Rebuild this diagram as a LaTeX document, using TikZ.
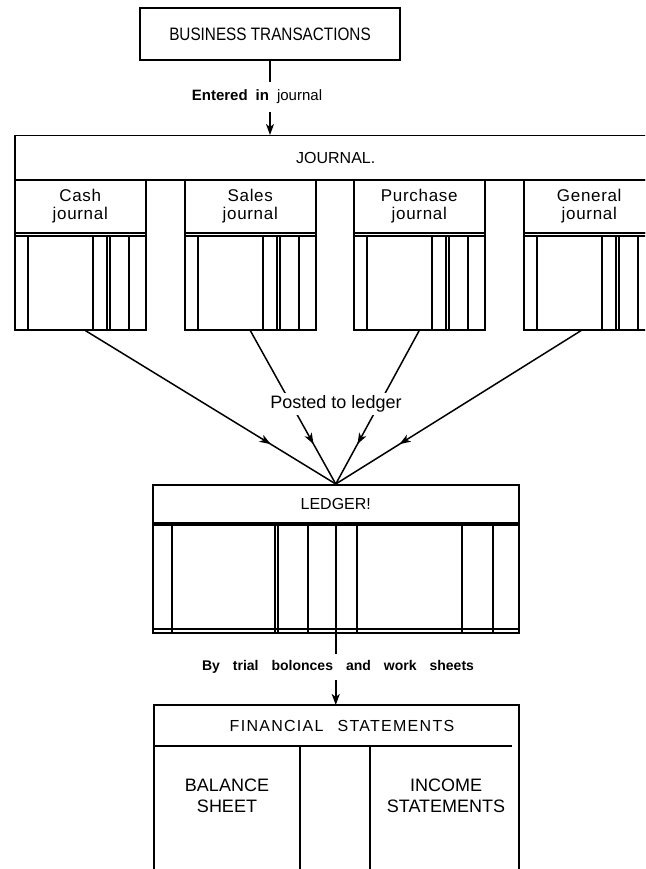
\documentclass[tikz,border=0pt]{standalone}
\usepackage{fontspec}
\setmainfont{Liberation Sans}
\newfontfamily\narrowsans[FakeStretch=0.85]{Liberation Sans}
\newfontfamily\spacedsans[LetterSpace=4]{Liberation Sans}
\newfontfamily\widesans[LetterSpace=8]{Liberation Sans}
\usetikzlibrary{arrows.meta,decorations.markings}

\newcommand{\wgap}{\hspace{13pt}}

\begin{document}
\begin{tikzpicture}[x=1pt, y=-1pt, line width=1.5pt,
  frame/.style={draw, inner sep=0pt, anchor=north west},
  colhead/.style={frame, minimum width=131pt, minimum height=53pt, align=center,
    font=\spacedsans\fontsize{17}{18}\selectfont},
  colbody/.style={frame, minimum width=131pt, minimum height=97pt},
  rule/.style={line width=1.2pt},
  lbl/.style={fill=white, inner sep=2pt},
  conn/.style={line width=1.5pt},
  tip/.style={-{Stealth[length=11pt,width=8pt,inset=3pt]}},
  midarrow/.style={decoration={markings,
      mark=at position 0.74 with {\arrow{Stealth[length=11pt,width=8pt,inset=3pt]}}},
    postaction={decorate}}]

\useasboundingbox (0,0) rectangle (645,869);
\clip (0,0) rectangle (645,869);

% source box
\node[draw, inner sep=0pt, minimum width=260pt, minimum height=52pt,
  font=\narrowsans\fontsize{18}{20}\selectfont] (bt) at (270,34) {BUSINESS TRANSACTIONS};

% journal header and its four books
\node[frame, minimum width=642pt, minimum height=44pt,
  font=\fontsize{16}{18}\selectfont] (jhead) at (14,135) {JOURNAL.};

\foreach \x/\nm/\t in {14/cash/Cash, 184/sales/Sales, 353/purch/Purchase, 523/gen/General} {
  \node[colhead] (\nm h) at (\x,179) {\t\\journal};
  \node[colbody] (\nm b) at (\x,232) {};
  \draw[rule] (\x,236) -- (\x+131,236);
  \foreach \d in {14,79,93,96,115}
    \draw[rule] (\x+\d,236) -- (\x+\d,329);
}

% ledger
\node[frame, minimum width=366pt, minimum height=38pt,
  font=\fontsize{16}{18}\selectfont] (ledh) at (152,484) {LEDGER!};
\node[frame, minimum width=366pt, minimum height=110pt] (ledb) at (152,522) {};
\draw[rule] (152,525) -- (518,525);
\draw[rule] (152,629) -- (518,629);
\foreach \v in {172,275,278,308,357,462,493}
  \draw[rule] (\v,525) -- (\v,634);

% financial statements
\coordinate (fstop) at (336,705);
\draw (154,869) -- (154,705) -- (519,705) -- (519,869);
\draw (154,746) -- (512,746);
\draw (300,746) -- (300,869);
\draw (370,746) -- (370,869);
\node[font=\widesans\fontsize{16}{18}\selectfont] (fsh) at (342,726)
  {FINANCIAL\hspace{14pt}STATEMENTS};
\node[align=center, font=\fontsize{18}{21}\selectfont] (bal) at (227,796)
  {BALANCE\\SHEET};
\node[align=center, font=\fontsize{18}{21}\selectfont] (inc) at (446,796)
  {INCOME\\STATEMENTS};

% transactions to journal
\draw[conn, tip] (bt.south) -- (bt.south |- jhead.north);
\node[lbl, minimum height=30pt, font=\fontsize{15}{17}\selectfont] (ent) at (257,97)
  {\bfseries Entered\hspace{8pt}in\hspace{8pt}\mdseries journal};

% postings to ledger
\draw[conn, midarrow] ([xshift=5pt]cashb.south) -- (ledh.north);
\draw[conn, midarrow] (salesb.south) -- (ledh.north);
\draw[conn, midarrow] (purchb.south) -- (ledh.north);
\draw[conn, midarrow] ([xshift=-8pt]genb.south) -- (ledh.north);
\node[lbl, minimum height=22pt, font=\fontsize{18}{20}\selectfont] (post) at (336,404)
  {Posted to ledger};

% ledger to statements
\draw[line width=2pt, tip] (ledh.south) -- (ledh.south |- fstop);
\node[lbl, minimum height=26pt, font=\bfseries\fontsize{14}{16}\selectfont] (trial) at (338,667)
  {By\wgap trial\wgap bolonces\wgap and\wgap work\wgap sheets};

\end{tikzpicture}
\end{document}
